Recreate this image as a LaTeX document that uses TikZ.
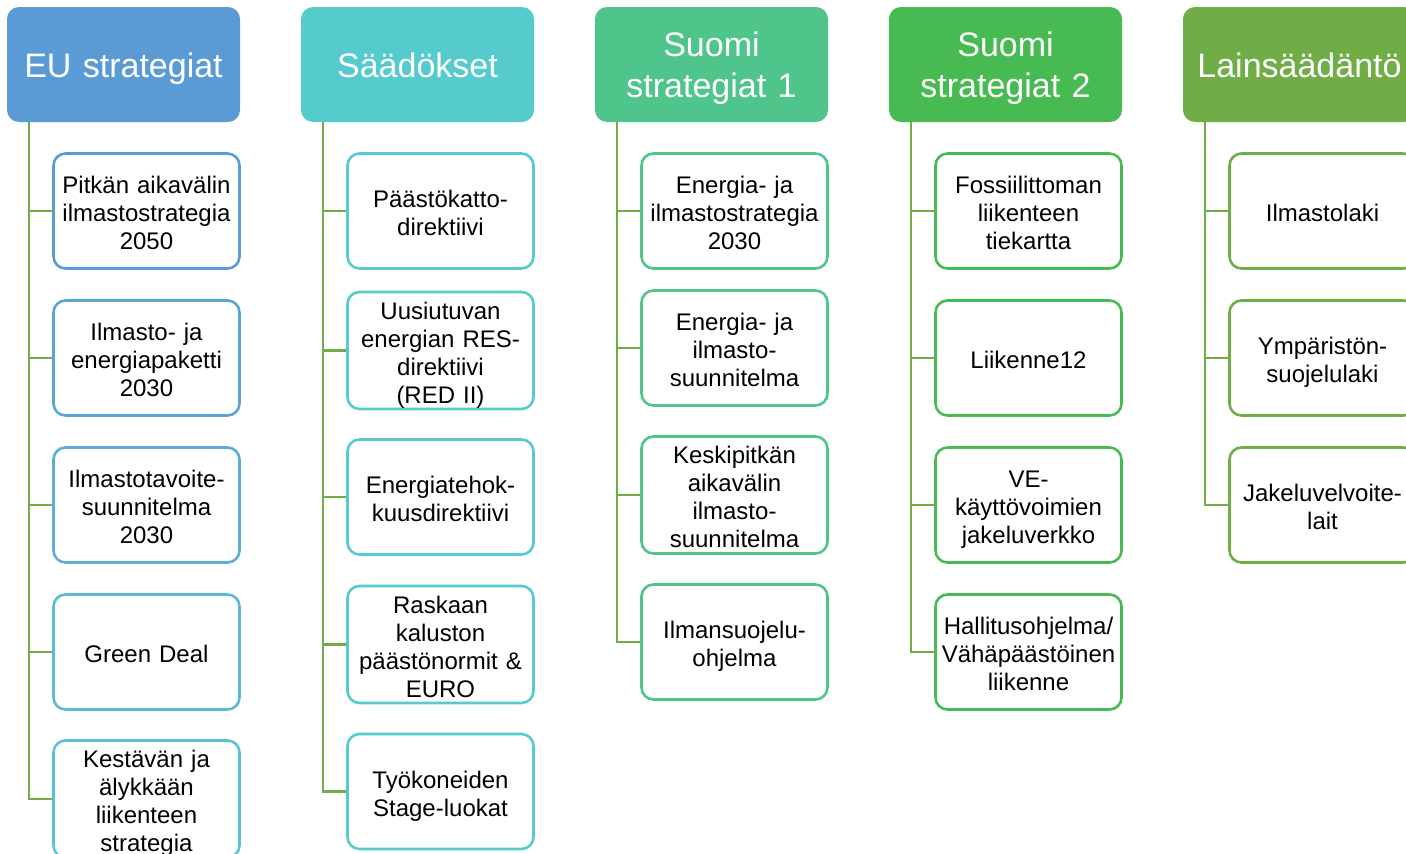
\documentclass[tikz,border=0pt]{standalone}
\usepackage{fontspec}
\setmainfont{Liberation Sans}
\usetikzlibrary{calc}
\definecolor{euA}{HTML}{5B9BD5}
\definecolor{euB}{HTML}{5BA5D5}
\definecolor{euC}{HTML}{5BAFD5}
\definecolor{euD}{HTML}{5BB9D5}
\definecolor{euE}{HTML}{5BC2D5}
\definecolor{sdk}{HTML}{55CBCD}
\definecolor{fiA}{HTML}{4FC48B}
\definecolor{fiB}{HTML}{47BB51}
\definecolor{law}{HTML}{70AD47}
\definecolor{branch}{HTML}{70AD47}
\tikzset{
  head/.style={fill=#1, rounded corners=12pt, minimum width=233pt, minimum height=115pt,
    inner sep=0pt, text width=233pt, align=center, text=white,
    font=\fontsize{34}{41}\selectfont,
    execute at begin node={\noindent\rule{0pt}{33pt}},
    execute at end node={\rule[-8pt]{0pt}{8pt}}},
  item/.style={draw=#1, fill=white, line width=2.6pt, rounded corners=12pt,
    minimum width=186pt, minimum height=115pt, inner sep=0pt, text width=186pt,
    align=center, font=\fontsize{24}{28}\selectfont,
    execute at begin node={\noindent\rule{0pt}{27pt}},
    execute at end node={\rule[-6pt]{0pt}{6pt}}},
  link/.style={draw=branch, line width=2.8pt}
}
\begin{document}
\begin{tikzpicture}[x=1pt,y=-1pt]
\clip (0,0) rectangle (1406,854);
\useasboundingbox (0,0) rectangle (1406,854);

% EU strategiat
\coordinate (t1) at (29,122);
\node[item=euA] (e11) at (146.5,211) {Pitkän aikavälin\\ilmastostrategia\\2050};
\node[item=euB] (e12) at (146.5,358) {Ilmasto- ja\\energiapaketti\\2030};
\node[item=euC] (e13) at (146.5,505) {Ilmastotavoite-\\suunnitelma\\2030};
\node[item=euD] (e14) at (146.5,652) {Green Deal};
\node[item=euE] (e15) at (146.5,799) {Kestävän ja\\älykkään\\liikenteen\\strategia};
\foreach \n in {e11,e12,e13,e14,e15}
  \draw[link] (t1) |- (\n.west);
\node[head=euA] (h1) at (123.5,64.5) {EU strategiat};

% Saadokset
\coordinate (t2) at (323,122);
\node[item=sdk] (e21) at (440.5,211) {Päästökatto-\\direktiivi};
\node[item=sdk] (e22) at (440.5,350.5) {Uusiutuvan\\energian RES-\\direktiivi\\(RED II)};
\node[item=sdk] (e23) at (440.5,497) {Energiatehok-\\kuusdirektiivi};
\node[item=sdk] (e24) at (440.5,644.5) {Raskaan\\kaluston\\päästönormit \&\\EURO};
\node[item=sdk] (e25) at (440.5,791.5) {Työkoneiden\\Stage-luokat};
\foreach \n in {e21,e22,e23,e24,e25}
  \draw[link] (t2) |- (\n.west);
\node[head=sdk] (h2) at (417.5,64.5) {Säädökset};

% Suomi strategiat 1
\coordinate (t3) at (617,122);
\node[item=fiA] (e31) at (734.5,211) {Energia- ja\\ilmastostrategia\\2030};
\node[item=fiA] (e32) at (734.5,348) {Energia- ja\\ilmasto-\\suunnitelma};
\node[item=fiA] (e33) at (734.5,495) {Keskipitkän\\aikavälin\\ilmasto-\\suunnitelma};
\node[item=fiA] (e34) at (734.5,642) {Ilmansuojelu-\\ohjelma};
\foreach \n in {e31,e32,e33,e34}
  \draw[link] (t3) |- (\n.west);
\node[head=fiA] (h3) at (711.5,64.5) {Suomi\\strategiat 1};

% Suomi strategiat 2
\coordinate (t4) at (911,122);
\node[item=fiB] (e41) at (1028.5,211) {Fossiilittoman\\liikenteen\\tiekartta};
\node[item=fiB] (e42) at (1028.5,358) {Liikenne12};
\node[item=fiB] (e43) at (1028.5,505) {VE-\\käyttövoimien\\jakeluverkko};
\node[item=fiB] (e44) at (1028.5,652) {Hallitusohjelma/\\Vähäpäästöinen\\liikenne};
\foreach \n in {e41,e42,e43,e44}
  \draw[link] (t4) |- (\n.west);
\node[head=fiB] (h4) at (1005.5,64.5) {Suomi\\strategiat 2};

% Lainsaadanto
\coordinate (t5) at (1205,122);
\node[item=law] (e51) at (1322.5,211) {Ilmastolaki};
\node[item=law] (e52) at (1322.5,358) {Ympäristön-\\suojelulaki};
\node[item=law] (e53) at (1322.5,505) {Jakeluvelvoite-\\lait};
\foreach \n in {e51,e52,e53}
  \draw[link] (t5) |- (\n.west);
\node[head=law] (h5) at (1299.5,64.5) {Lainsäädäntö};
\end{tikzpicture}
\end{document}
